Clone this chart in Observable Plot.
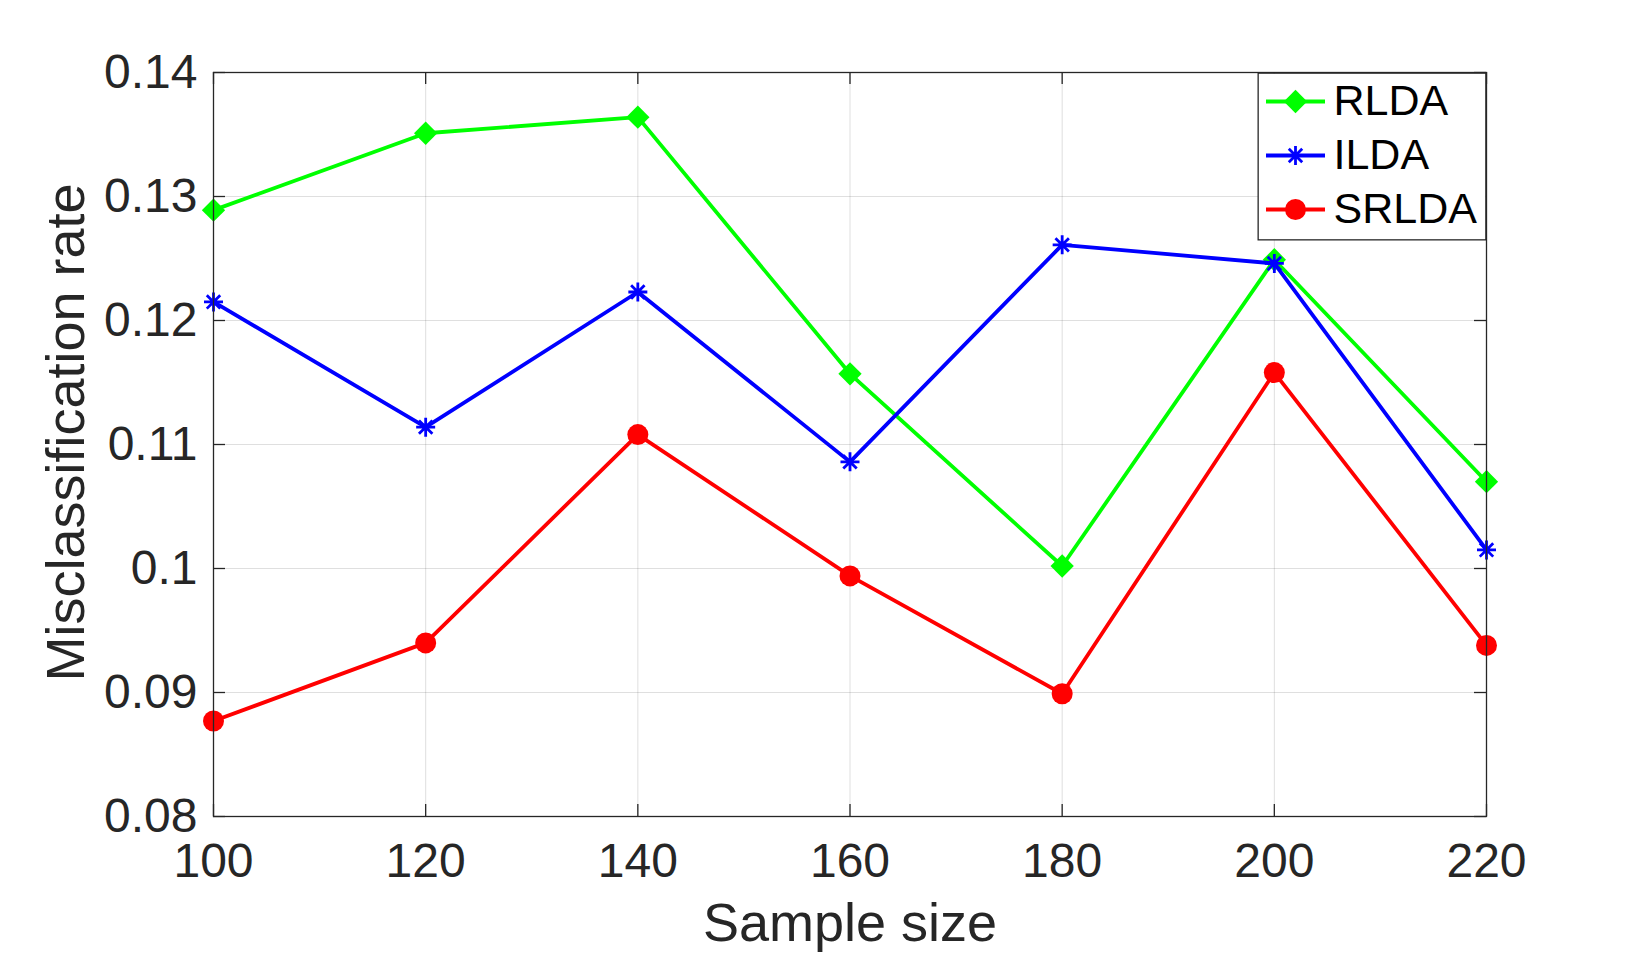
<!DOCTYPE html>
<html>
<head>
<meta charset="utf-8">
<script src="https://cdn.jsdelivr.net/npm/d3@7"></script>
<script src="https://cdn.jsdelivr.net/npm/@observablehq/plot@0.6"></script>
<style>
  body { margin: 0; background: #fff; }
  #wrap { position: relative; width: 1642px; height: 956px; background: #fff; }
  #legend { position: absolute; left: 1257px; top: 72px; }
</style>
</head>
<body>
<div id="wrap"></div>
<script>
// ---- data ----
const sampleSizes = [100, 120, 140, 160, 180, 200, 220];
const seriesNames = ["RLDA", "ILDA", "SRLDA"];
const seriesColors = ["#00ff00", "#0000ff", "#ff0000"];
const rlda  = [0.1289, 0.1351, 0.1364, 0.1157, 0.1002, 0.1249, 0.1070];
const ilda  = [0.1215, 0.1114, 0.1223, 0.1086, 0.1261, 0.1246, 0.1015];
const srlda = [0.0877, 0.0940, 0.1108, 0.0994, 0.0899, 0.1158, 0.0938];
const xTicks = [100, 120, 140, 160, 180, 200, 220];
const yTicks = [0.08, 0.09, 0.1, 0.11, 0.12, 0.13, 0.14];
const xLabel = "Sample size";
const yLabel = "Misclassification rate";

// ---- build ----
const seriesValues = [rlda, ilda, srlda];
const matlabStar = {
  draw(ctx, size) {
    const r = Math.sqrt(size / Math.PI);
    const d = r * Math.SQRT1_2;
    ctx.moveTo(0, -r); ctx.lineTo(0, r);
    ctx.moveTo(-r, 0); ctx.lineTo(r, 0);
    ctx.moveTo(-d, -d); ctx.lineTo(d, d);
    ctx.moveTo(-d, d); ctx.lineTo(d, -d);
  }
};
const markerStyles = [
  {symbol: "diamond2", r: 10.5},
  {symbol: matlabStar, r: 9.5, star: true},
  {symbol: "circle", r: 10.5}
];
function dotOpts(i, extra) {
  const m = markerStyles[i];
  return m.star
    ? {symbol: m.symbol, r: m.r, fill: "none", stroke: seriesColors[i], strokeWidth: 2.8, ...extra}
    : {symbol: m.symbol, r: m.r, fill: seriesColors[i], stroke: "none", ...extra};
}

const W = 1642, H = 956;
const mL = 213, mR = 156, mT = 72, mB = 140;
const plotW = W - mL - mR, plotH = H - mT - mB;
const tickLen = 12;
const axisColor = "#262626";
const lineW = 3.8;

const seriesMarks = seriesNames.flatMap((name, i) => {
  const data = sampleSizes.map((x, j) => ({x, y: seriesValues[i][j], series: name}));
  return [
    Plot.line(data, {x: "x", y: "y", stroke: seriesColors[i], strokeWidth: lineW}),
    Plot.dot(data, dotOpts(i, {x: "x", y: "y"}))
  ];
});

const chart = Plot.plot({
  width: W,
  height: H,
  marginLeft: mL,
  marginRight: mR,
  marginTop: mT,
  marginBottom: mB,
  style: {fontFamily: "'Liberation Sans', Arial, Helvetica, sans-serif", background: "white", color: axisColor},
  x: {domain: [100, 220]},
  y: {domain: [0.08, 0.14]},
  marks: [
    Plot.gridX(xTicks, {stroke: axisColor, strokeOpacity: 0.15, strokeWidth: 1}),
    Plot.gridY(yTicks, {stroke: axisColor, strokeOpacity: 0.15, strokeWidth: 1}),
    ...seriesMarks,
    Plot.frame({stroke: axisColor, strokeWidth: 1.3}),
    Plot.tickX(xTicks, {x: d => d, stroke: axisColor, strokeWidth: 1.3, insetTop: plotH - tickLen}),
    Plot.tickX(xTicks, {x: d => d, stroke: axisColor, strokeWidth: 1.3, insetBottom: plotH - tickLen}),
    Plot.tickY(yTicks, {y: d => d, stroke: axisColor, strokeWidth: 1.3, insetRight: plotW - tickLen}),
    Plot.tickY(yTicks, {y: d => d, stroke: axisColor, strokeWidth: 1.3, insetLeft: plotW - tickLen}),
    Plot.axisX(xTicks, {tickSize: 0, tickPadding: 26, fontSize: 48, label: null, tickFormat: d => String(d), fill: axisColor}),
    Plot.axisY(yTicks, {tickSize: 0, tickPadding: 16, fontSize: 48, label: null, tickFormat: d => String(d), fill: axisColor}),
    Plot.text([xLabel], {text: d => d, frameAnchor: "bottom", dy: 124, textAnchor: "middle", lineAnchor: "bottom", fontSize: 54, fill: axisColor}),
    Plot.text([yLabel], {text: d => d, frameAnchor: "left", dx: -130, dy: -12, rotate: -90, textAnchor: "middle", lineAnchor: "bottom", fontSize: 54, fill: axisColor})
  ]
});

const legend = Plot.plot({
  width: 229,
  height: 168,
  margin: 0,
  style: {fontFamily: "'Liberation Sans', Arial, Helvetica, sans-serif", background: "transparent", overflow: "visible"},
  y: {type: "point", domain: seriesNames, range: [29, 137], padding: 0, axis: null},
  marks: [
    Plot.frame({fill: "white", stroke: axisColor, strokeWidth: 1.3, inset: 0.65}),
    ...seriesNames.flatMap((name, i) => [
      Plot.tickY([name], {y: d => d, stroke: seriesColors[i], strokeWidth: lineW, insetLeft: 9, insetRight: 161}),
      Plot.dot([name], dotOpts(i, {y: d => d, frameAnchor: "left", dx: 38}))
    ]),
    Plot.text(seriesNames, {y: d => d, text: d => d, frameAnchor: "left", dx: 76, textAnchor: "start", lineAnchor: "middle", fontSize: 43, fill: "black"})
  ]
});
legend.id = "legend";

const wrap = document.getElementById("wrap");
wrap.appendChild(chart);
wrap.appendChild(legend);
</script>
</body>
</html>
